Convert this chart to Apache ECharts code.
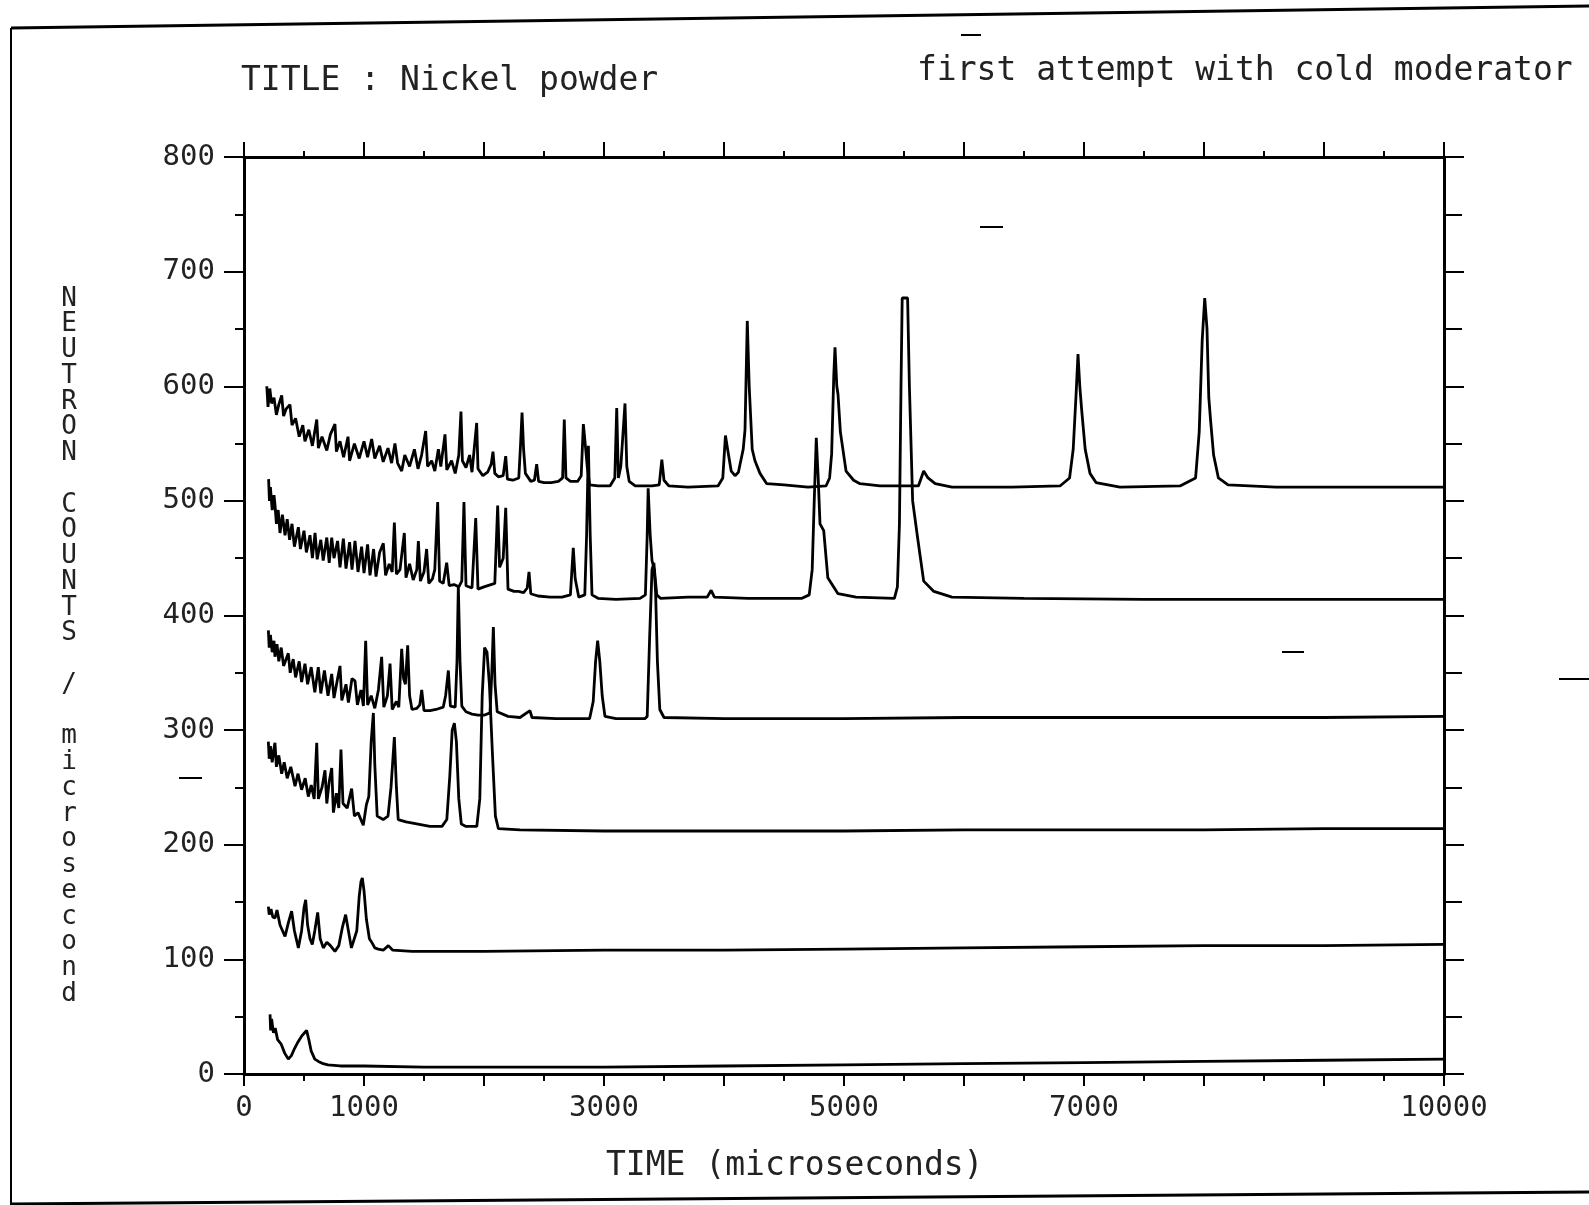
<!DOCTYPE html>
<html>
<head>
<meta charset="utf-8">
<title>Nickel powder</title>
<script src="https://cdn.jsdelivr.net/npm/echarts@6/dist/echarts.min.js"></script>
<style>
  html, body { margin: 0; padding: 0; background: #fff; }
  #chart { width: 1589px; height: 1205px; }
</style>
</head>
<body>
<div id="chart"></div>
<script>
// 6 detector spectra, [time in microseconds, counts / microsecond]
const det6 = [[190,600],[200,582],[215,598],[230,585],[250,590],[270,575],[290,584],[314,592],[330,574],[350,580],[383,584],[400,566],[430,572],[460,556],[490,566],[508,552],[540,562],[570,548],[606,571],[620,546],[650,556],[690,544],[720,558],[758,567],[770,543],[800,552],[830,538],[867,556],[880,535],[920,550],[960,537],[1000,552],[1030,538],[1064,554],[1090,537],[1130,548],[1160,534],[1200,546],[1230,533],[1258,550],[1280,533],[1314,526],[1340,540],[1380,530],[1420,545],[1450,528],[1480,540],[1514,561],[1530,530],[1564,535],[1590,526],[1620,545],[1640,530],[1675,558],[1690,527],[1730,535],[1760,524],[1790,540],[1808,578],[1820,535],[1850,529],[1880,540],[1900,525],[1939,568],[1950,528],[1990,522],[2030,525],[2060,532],[2075,543],[2090,524],[2120,521],[2160,522],[2181,539],[2195,519],[2240,518],[2290,520],[2305,550],[2317,577],[2330,545],[2345,524],[2390,517],[2420,518],[2439,532],[2455,517],[2500,516],[2560,516],[2620,517],[2655,520],[2669,571],[2683,520],[2720,517],[2780,517],[2810,522],[2828,567],[2845,548],[2860,530],[2880,514],[2950,513],[3050,513],[3090,520],[3106,581],[3120,520],[3140,530],[3175,585],[3190,530],[3210,517],[3260,513],[3400,513],[3460,514],[3482,536],[3500,518],[3540,513],[3700,512],[3950,513],[3990,520],[4012,557],[4030,545],[4060,526],[4092,522],[4120,525],[4160,545],[4175,562],[4194,657],[4210,600],[4235,545],[4258,535],[4300,524],[4356,515],[4500,514],[4700,512],[4850,513],[4880,520],[4897,541],[4915,610],[4925,634],[4940,600],[4950,593],[4970,560],[5017,526],[5080,518],[5133,515],[5300,513],[5620,513],[5664,526],[5700,520],[5760,515],[5900,512],[6400,512],[6800,513],[6880,520],[6910,545],[6935,595],[6950,628],[6965,600],[6980,580],[7010,545],[7050,524],[7100,516],[7300,512],[7800,513],[7930,520],[7960,560],[7985,640],[8006,677],[8025,650],[8040,590],[8055,570],[8080,540],[8120,520],[8200,514],[8600,512],[9200,512],[10000,512]];
const det5 = [[205,519],[212,500],[220,512],[235,492],[250,505],[258,497],[270,480],[285,492],[300,472],[320,488],[342,470],[360,484],[380,466],[400,480],[420,460],[453,477],[470,458],[500,474],[520,455],[550,470],[570,450],[592,472],[610,449],[640,466],[660,448],[690,468],[710,446],[731,468],[750,450],[780,465],[800,442],[828,467],[850,441],[880,464],[900,440],[925,465],[950,438],[980,460],[1000,437],[1030,462],[1050,435],[1080,458],[1100,434],[1130,455],[1161,463],[1180,435],[1210,445],[1235,438],[1253,481],[1270,436],[1300,440],[1336,472],[1350,433],[1380,445],[1410,431],[1440,440],[1453,465],[1470,430],[1500,438],[1522,458],[1540,428],[1570,432],[1590,440],[1614,499],[1630,430],[1660,428],[1689,446],[1710,426],[1750,427],[1790,425],[1815,430],[1833,499],[1850,426],[1900,424],[1931,485],[1950,423],[2000,425],[2090,428],[2114,496],[2130,442],[2160,450],[2181,494],[2200,423],[2250,421],[2286,421],[2330,420],[2360,424],[2375,438],[2390,419],[2450,417],[2550,416],[2650,416],[2720,418],[2744,459],[2760,432],[2790,416],[2840,418],[2855,470],[2870,548],[2885,470],[2900,418],[2950,415],[3100,414],[3300,415],[3345,418],[3360,470],[3368,511],[3385,470],[3400,448],[3420,440],[3440,418],[3470,415],[3700,416],[3860,416],[3893,422],[3920,416],[4200,415],[4650,415],[4710,418],[4735,440],[4752,500],[4769,555],[4785,520],[4800,480],[4831,474],[4865,433],[4950,419],[5100,416],[5420,415],[5445,425],[5462,480],[5475,600],[5485,677],[5530,677],[5545,600],[5572,500],[5613,468],[5664,430],[5749,421],[5900,416],[6500,415],[7500,414],[8500,414],[9500,414],[10000,414]];
const det4 = [[203,387],[210,372],[220,383],[235,368],[250,378],[258,364],[275,375],[290,360],[310,372],[330,356],[369,367],[385,350],[410,362],[430,346],[460,360],[480,342],[508,358],[530,340],[560,355],[590,333],[619,355],[640,332],[670,352],[700,330],[731,349],[750,328],[780,345],[800,356],[815,326],[850,340],[870,324],[900,345],[925,343],[945,322],[975,335],[995,321],[1014,378],[1030,322],[1060,330],[1090,319],[1120,335],[1147,364],[1165,320],[1195,330],[1217,358],[1235,318],[1270,325],[1290,320],[1314,371],[1330,345],[1345,340],[1364,374],[1380,330],[1400,318],[1440,319],[1465,322],[1481,335],[1500,317],[1550,317],[1600,318],[1660,320],[1680,330],[1703,352],[1720,321],[1760,320],[1775,360],[1786,426],[1800,360],[1815,321],[1850,316],[1900,314],[1950,313],[2000,313],[2050,315],[2065,350],[2078,390],[2092,340],[2110,316],[2200,312],[2300,311],[2383,317],[2400,311],[2600,310],[2880,310],[2910,325],[2930,360],[2947,378],[2965,360],[2985,330],[3008,312],[3100,310],[3340,310],[3360,312],[3380,380],[3400,440],[3416,446],[3430,420],[3445,360],[3465,318],[3500,311],[4000,310],[5000,310],[6000,311],[7000,311],[8000,311],[9000,311],[10000,312]];
const det3 = [[203,290],[210,275],[220,286],[235,272],[250,284],[258,289],[270,268],[290,278],[314,262],[335,272],[360,258],[390,268],[425,251],[450,262],[480,248],[510,258],[536,242],[560,252],[585,240],[606,289],[620,240],[650,250],[675,265],[690,236],[710,255],[731,267],[745,228],[770,245],[790,232],[808,283],[825,236],[860,232],[897,249],[920,225],[950,228],[994,217],[1020,235],[1040,242],[1060,290],[1078,315],[1090,270],[1110,225],[1160,222],[1200,225],[1225,250],[1253,294],[1270,250],[1285,222],[1350,220],[1450,218],[1550,216],[1650,216],[1690,222],[1715,260],[1735,300],[1753,306],[1770,290],[1790,240],[1811,218],[1850,216],[1940,216],[1965,240],[1985,330],[2005,372],[2025,368],[2045,340],[2070,280],[2095,225],[2120,214],[2300,213],[3000,212],[4000,212],[5000,212],[6000,213],[7000,213],[8000,213],[9000,214],[10000,214]];
const det2 = [[203,146],[210,139],[225,144],[240,137],[258,136],[275,143],[300,130],[342,120],[370,132],[397,142],[420,125],[453,110],[480,125],[500,145],[514,152],[530,130],[550,118],[569,113],[590,125],[614,141],[635,118],[661,110],[690,115],[720,112],[758,107],[790,112],[820,128],[847,139],[870,125],[895,110],[911,109],[940,125],[960,155],[975,168],[986,171],[1000,160],[1020,135],[1045,118],[1064,115],[1090,110],[1119,109],[1160,108],[1203,112],[1240,108],[1400,107],[1700,107],[2000,107],[3000,108],[4000,108],[5000,109],[6000,110],[7000,111],[8000,112],[9000,112],[10000,113]];
const det1 = [[217,52],[222,38],[230,48],[245,36],[260,40],[280,30],[310,26],[340,18],[369,13],[395,16],[420,22],[450,28],[480,33],[505,36],[522,38],[540,30],[560,20],[590,13],[620,11],[660,9],[700,8],[800,7],[1000,7],[1500,6],[2000,6],[3000,6],[4000,7],[5000,8],[6000,9],[7000,10],[8000,11],[9000,12],[10000,13]];

const timeLabels = [0, 1000, 3000, 5000, 7000, 10000];
const yTitle = 'NEUTRON COUNTS / microsecond';

const myChart = echarts.init(document.getElementById('chart'));
const monoFont = '"DejaVu Sans Mono", monospace';

function trace(data) {
  return {
    type: 'line',
    data: data,
    showSymbol: false,
    lineStyle: { color: '#000', width: 2.8 },
    silent: true
  };
}

const axisLineStyle = { color: '#000', width: 3 };
const tickStyle = { color: '#000', width: 2 };

const option = {
  animation: false,
  backgroundColor: '#fff',
  title: [
    { text: 'TITLE : Nickel powder', left: 236, top: 60,
      textStyle: { fontFamily: monoFont, fontSize: 33, fontWeight: 'normal', color: '#222' } },
    { text: 'first attempt with cold moderator', left: 912, top: 50,
      textStyle: { fontFamily: monoFont, fontSize: 33, fontWeight: 'normal', color: '#222' } }
  ],
  grid: { left: 244, right: 145, top: 157, bottom: 131 },
  xAxis: [
    {
      type: 'value', min: 0, max: 10000, interval: 1000,
      axisLine: { onZero: false, lineStyle: axisLineStyle },
      axisTick: { length: 12, lineStyle: tickStyle },
      minorTick: { show: true, splitNumber: 2, length: 7, lineStyle: tickStyle },
      splitLine: { show: false },
      axisLabel: {
        margin: 20, fontFamily: monoFont, fontSize: 29, color: '#222',
        formatter: v => timeLabels.includes(v) ? String(v) : ''
      }
    },
    {
      type: 'value', position: 'top', min: 0, max: 10000, interval: 1000,
      axisLine: { onZero: false, lineStyle: axisLineStyle },
      axisTick: { length: 15, lineStyle: tickStyle },
      minorTick: { show: true, splitNumber: 2, length: 6, lineStyle: tickStyle },
      splitLine: { show: false },
      axisLabel: { show: false }
    }
  ],
  yAxis: [
    {
      type: 'value', min: 0, max: 800, interval: 100,
      axisLine: { show: true, onZero: false, lineStyle: axisLineStyle },
      axisTick: { show: true, length: 20, lineStyle: tickStyle },
      minorTick: { show: true, splitNumber: 2, length: 9, lineStyle: tickStyle },
      splitLine: { show: false },
      axisLabel: { margin: 29, fontFamily: monoFont, fontSize: 29, color: '#222' }
    },
    {
      type: 'value', position: 'right', min: 0, max: 800, interval: 100,
      axisLine: { show: true, onZero: false, lineStyle: axisLineStyle },
      axisTick: { show: true, length: 20, lineStyle: tickStyle },
      minorTick: { show: true, splitNumber: 2, length: 18, lineStyle: tickStyle },
      splitLine: { show: false },
      axisLabel: { show: false }
    }
  ],
  graphic: [
    // axis titles
    { type: 'text', left: 606, top: 1150,
      style: { text: 'TIME (microseconds)', font: '33px ' + monoFont, fill: '#222' } },
    { type: 'text', x: 69, y: 286,
      style: { text: yTitle.split('').join('\n'), font: '26px ' + monoFont,
               lineHeight: 25.75, fill: '#222', align: 'center', verticalAlign: 'top' } },
    // page frame of the scanned sheet
    { type: 'line', shape: { x1: 11, y1: 28, x2: 1589, y2: 6 }, style: { stroke: '#000', lineWidth: 3 } },
    { type: 'line', shape: { x1: 11, y1: 28, x2: 11, y2: 1205 }, style: { stroke: '#000', lineWidth: 2 } },
    { type: 'line', shape: { x1: 11, y1: 1204, x2: 1589, y2: 1192 }, style: { stroke: '#000', lineWidth: 3 } },
    // stray pen marks
    { type: 'line', shape: { x1: 961, y1: 35, x2: 981, y2: 35 }, style: { stroke: '#000', lineWidth: 2 } },
    { type: 'line', shape: { x1: 980, y1: 227, x2: 1003, y2: 227 }, style: { stroke: '#000', lineWidth: 2 } },
    { type: 'line', shape: { x1: 1282, y1: 652, x2: 1304, y2: 652 }, style: { stroke: '#000', lineWidth: 2 } },
    { type: 'line', shape: { x1: 1559, y1: 679, x2: 1589, y2: 679 }, style: { stroke: '#000', lineWidth: 2 } },
    { type: 'line', shape: { x1: 179, y1: 778, x2: 202, y2: 778 }, style: { stroke: '#000', lineWidth: 2 } }
  ],
  series: [det1, det2, det3, det4, det5, det6].map(trace)
};

myChart.setOption(option);
</script>
</body>
</html>
